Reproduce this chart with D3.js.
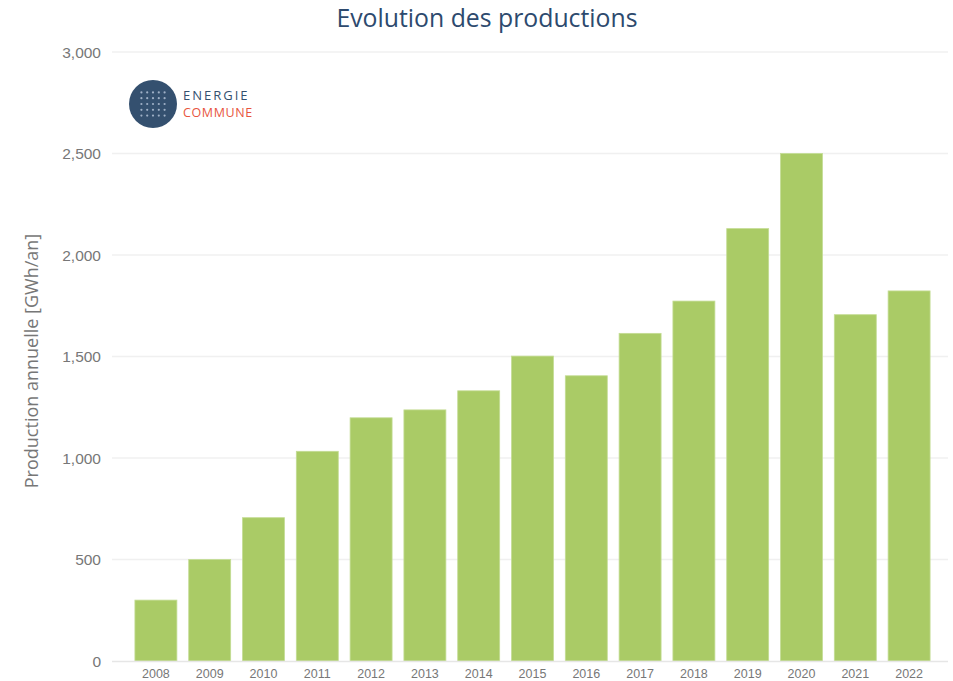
<!DOCTYPE html>
<html><head><meta charset="utf-8">
<script src="https://cdn.jsdelivr.net/npm/d3@7"></script>
<style>
body{margin:0;background:#fff;}
svg{display:block;font-family:"Open Sans","Noto Sans",sans-serif;}
</style></head>
<body><svg id="chart" width="953" height="681"></svg>
<script>
const categories = ["2008","2009","2010","2011","2012","2013","2014","2015","2016","2017","2018","2019","2020","2021","2022"];
const values = [300, 500, 706, 1033, 1198, 1237, 1331, 1502, 1405, 1614, 1773, 2130, 2500, 1706, 1823];
const yTicks = [0, 500, 1000, 1500, 2000, 2500, 3000];
const title = "Evolution des productions";
const yTitle = "Production annuelle [GWh/an]";

const svg = d3.select("#chart");
const plotL = 112, plotR = 948, plotT = 52, plotB = 661;

const x = d3.scaleBand().domain(categories).range([129, 936]).paddingInner(0.22).paddingOuter(0.11);
const y = d3.scaleLinear().domain([0, 3000]).range([plotB, plotT]);

// gridlines
svg.append("g").selectAll("line").data(yTicks.filter(d => d > 0)).join("line")
  .attr("x1", plotL).attr("x2", plotR)
  .attr("y1", d => y(d)).attr("y2", d => y(d))
  .attr("stroke", "#f0f0f0").attr("stroke-width", 1.5);

// y axis labels
const yAxis = d3.axisLeft(y).tickValues(yTicks).tickSize(0).tickPadding(0).tickFormat(d3.format(","));
const yg = svg.append("g").attr("transform", `translate(101,0)`).call(yAxis);
yg.select(".domain").remove();
yg.selectAll("text").attr("fill", "#777").attr("font-size", 15.5).attr("dy", "0.35em");

// bars
svg.append("g").selectAll("rect").data(values).join("rect")
  .attr("x", (d, i) => x(categories[i]))
  .attr("width", x.bandwidth())
  .attr("y", d => y(d))
  .attr("height", d => y(0) - y(d))
  .attr("fill", "#aacb66")
  .attr("stroke", "#c4dc94").attr("stroke-width", 0.8);

// baseline
svg.append("line").attr("x1", plotL).attr("x2", plotR).attr("y1", plotB + 0.5).attr("y2", plotB + 0.5)
  .attr("stroke", "#e6e6e6").attr("stroke-width", 1.5);

// x axis labels
const xAxis = d3.axisBottom(x).tickSize(0).tickPadding(8);
const xg = svg.append("g").attr("transform", `translate(0,${plotB})`).call(xAxis);
xg.select(".domain").remove();
xg.selectAll("text").attr("fill", "#777").attr("font-size", 12.5);

// title
svg.append("text").attr("x", 487).attr("y", 27).attr("text-anchor", "middle")
  .attr("fill", "#2d4a6e").attr("font-size", 24.8).text(title);

// y title
svg.append("text").attr("transform", "translate(38,361) rotate(-90)").attr("text-anchor", "middle")
  .attr("fill", "#777").attr("font-size", 18).text(yTitle);

// logo
const logo = svg.append("g").attr("transform", "translate(153,104)");
logo.append("circle").attr("r", 24).attr("fill", "#34506f");
for (let r = 0; r < 5; r++) for (let c = 0; c < 5; c++) {
  logo.append("circle").attr("cx", -11.6 + c * 5.8).attr("cy", -11.6 + r * 5.8).attr("r", 1.1).attr("fill", "#9fb0c6");
}
svg.append("text").attr("x", 183).attr("y", 99.5).attr("fill", "#34506f").attr("font-size", 13).attr("letter-spacing", 2).text("ENERGIE");
svg.append("text").attr("x", 183).attr("y", 116.5).attr("fill", "#e8553e").attr("font-size", 12.5).attr("letter-spacing", 0.6).text("COMMUNE");
</script></body></html>
